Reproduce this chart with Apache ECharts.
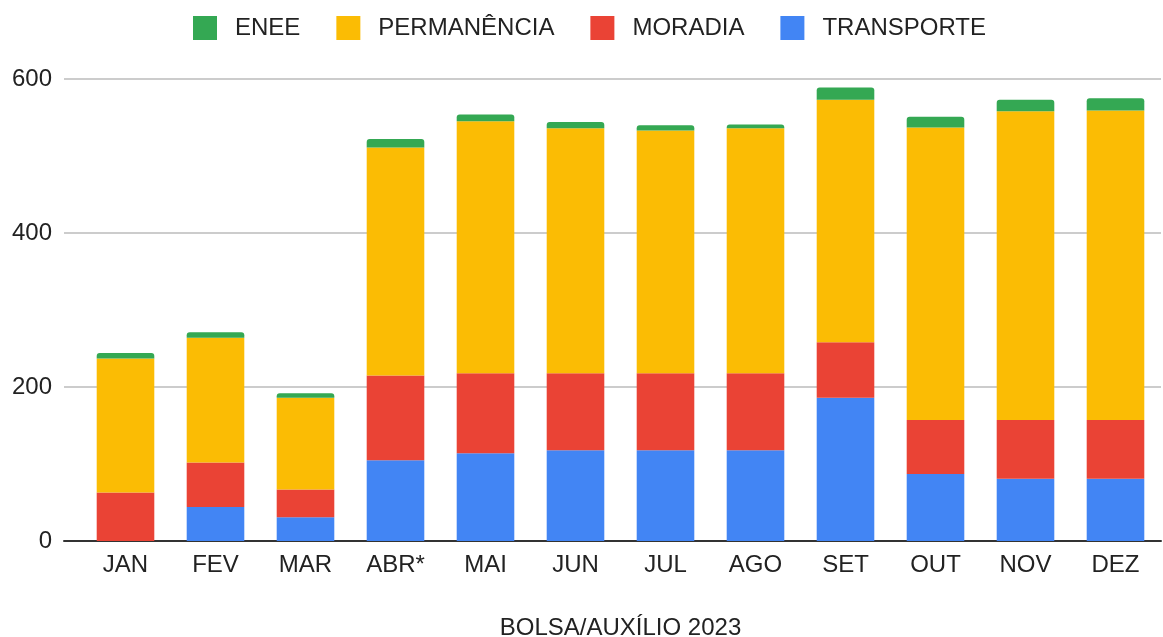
<!DOCTYPE html>
<html>
<head>
<meta charset="utf-8">
<script src="https://cdn.jsdelivr.net/npm/echarts@6/dist/echarts.min.js"></script>
<style>
html,body{margin:0;padding:0;background:#fff;}
#chart{width:1163px;height:637px;}
</style>
</head>
<body>
<div id="chart"></div>
<script>
const categories = ['JAN','FEV','MAR','ABR*','MAI','JUN','JUL','AGO','SET','OUT','NOV','DEZ'];
const transporte  = [0, 44, 31, 105, 114, 118, 118, 118, 186, 87, 81, 81];
const moradia     = [63, 58, 36, 110, 104, 100, 100, 100, 72, 70, 76, 76];
const permanencia = [174, 162, 119, 296, 327, 318, 315, 318, 315, 380, 401, 402];
const enee        = [7, 7, 6, 11, 9, 8, 7, 5, 16, 14, 15, 16];
const yTicks = [0, 200, 400, 600];
const xTitle = 'BOLSA/AUXÍLIO 2023';

const FONT = '"Liberation Sans", Arial, sans-serif';
const TXT = '#222';
const chart = echarts.init(document.getElementById('chart'), null, {renderer:'canvas'});
const yMin = yTicks[0], yMax = yTicks[yTicks.length-1], yInt = yTicks[1]-yTicks[0];

chart.setOption({
  animation:false,
  textStyle:{fontFamily:FONT},
  legend:{
    data:['ENEE','PERMANÊNCIA','MORADIA','TRANSPORTE'],
    left:193, top:16, padding:0,
    itemWidth:24, itemHeight:24, itemGap:36,
    icon:'rect',
    textStyle:{fontSize:24, color:TXT, fontFamily:FONT, padding:[0,0,0,13]}
  },
  grid:[
    {left:80.5, right:2.5, top:79, bottom:96, outerBoundsMode:'none', containLabel:false},
    {left:64, right:2, top:79, bottom:96, outerBoundsMode:'none', containLabel:false}
  ],
  xAxis:[
    {type:'category', gridIndex:0, data:categories,
     axisLine:{show:false}, axisTick:{show:false},
     axisLabel:{fontSize:24, color:TXT, fontFamily:FONT, margin:12},
     name:xTitle, nameLocation:'middle', nameGap:75,
     nameTextStyle:{fontSize:24, color:TXT, fontFamily:FONT}},
    {type:'value', gridIndex:1, min:0, max:1, show:true,
     axisLine:{show:true, onZero:false, lineStyle:{color:'#333', width:2}},
     axisTick:{show:false}, axisLabel:{show:false}, splitLine:{show:false}}
  ],
  yAxis:[
    {type:'value', gridIndex:0, min:yMin, max:yMax, interval:yInt, show:false},
    {type:'value', gridIndex:1, min:yMin, max:yMax, interval:yInt,
     axisLine:{show:false}, axisTick:{show:false},
     axisLabel:{fontSize:24, color:TXT, fontFamily:FONT, margin:12},
     splitLine:{show:true, lineStyle:{color:'#cccccc', width:2}}}
  ],
  series:[
    {name:'TRANSPORTE', type:'bar', stack:'s', data:transporte, barWidth:'64%', itemStyle:{color:'#4285F4'}},
    {name:'MORADIA', type:'bar', stack:'s', data:moradia, barWidth:'64%', itemStyle:{color:'#EA4335'}},
    {name:'PERMANÊNCIA', type:'bar', stack:'s', data:permanencia, barWidth:'64%', itemStyle:{color:'#FBBC04'}},
    {name:'ENEE', type:'bar', stack:'s', data:enee, barWidth:'64%', itemStyle:{color:'#34A853', borderRadius:[3,3,0,0]}}
  ]
});
</script>
</body>
</html>
